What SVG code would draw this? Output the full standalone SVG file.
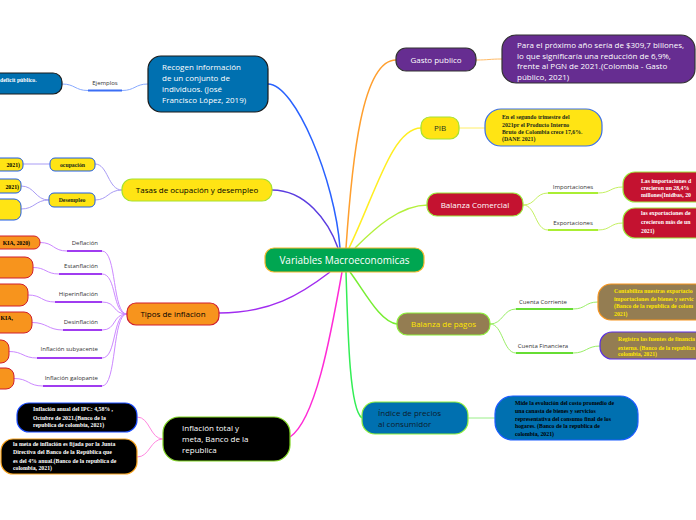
<svg xmlns="http://www.w3.org/2000/svg" width="696" height="520" viewBox="0 0 696 520">
<style>
.s{font-family:"Open Sans","Noto Sans","DejaVu Sans",sans-serif;font-size:8px}
.c{font-family:"Open Sans","Noto Sans","DejaVu Sans",sans-serif;font-size:10px}
.lb{font-family:"Open Sans","Noto Sans","DejaVu Sans",sans-serif;font-size:6px;fill:#333}
.b{font-family:"Liberation Serif","Times New Roman",serif;font-weight:bold;font-size:5.8px}
.m{text-anchor:middle}
.e{text-anchor:end}
.w{fill:#fff}
.k{fill:#000}
.y{fill:#ffe600}
.main{fill:none;stroke-width:1.5}
.sub{fill:none;stroke-width:1}
.ul{fill:none;stroke-width:2}
</style>
<rect width="696" height="520" fill="#fff"/>
<g id="connectors">
<path class="main" stroke="#2962ff" d="M340,248 C335,180 295,84 268,84"/>
<path class="main" stroke="#ff9f2e" d="M346,248 C352,160 362,60 396,60"/>
<path class="main" stroke="#ffee22" d="M349,248 C375,195 392,128 421,128"/>
<path class="main" stroke="#b4f03c" d="M355,248 C375,228 400,205 428,205"/>
<path class="main" stroke="#5b3de0" d="M338,248 C328,220 305,190 272,190"/>
<path class="main" stroke="#a12cf0" d="M330,272 C300,295 270,313 219,313"/>
<path class="main" stroke="#ff2bd6" d="M342,272 C330,340 315,420 290,437"/>
<path class="main" stroke="#77ee33" d="M350,272 C365,292 380,322 397,324"/>
<path class="main" stroke="#33ee55" d="M346,272 C348,340 350,410 362,418"/>
<path class="sub" stroke="#88aaff" d="M62,84 C75,84 75,90.5 88,90.5 M122,90.5 C135,90.5 135,84 148,84"/>
<path class="ul" stroke="#3b6ef5" d="M88,90.5 H122"/>
<path class="sub" stroke="#a99cf5" d="M122,190 C108,190 108,164 95,164 M122,190 C108,190 108,200 95,200 M50,164 L23,164 M49,200 C35,200 35,186 21,186 M49,200 C35,200 35,209 21,209"/>
<path class="sub" stroke="#cc88ff" d="M127,314 C112,314 117,251 102,251 M127,314 C112,314 117,274 102,274 M127,314 C112,314 117,302 102,302 M127,314 C112,314 117,330 102,330 M127,314 C112,314 117,358 102,358 M127,314 C112,314 117,386 102,386 M67,251 C53,251 54,242.5 40,242.5 M59,274 C46,274 46,267.5 33,267.5 M55,302 C41,302 42,295 28,295 M63,330 C48,330 47,322.5 32,322.5 M37,358 C23,358 23,351.5 9,351.5 M43,386 C28,386 29,378.5 14,378.5"/>
<path class="ul" stroke="#a03cf0" d="M67,251 H102 M59,274 H102 M55,302 H102 M63,330 H102 M37,358 H102 M43,386 H102"/>
<path class="sub" stroke="#ff88e0" d="M163,439 C150,439 150,417 137,417 M163,439 C150,439 150,457 137,457"/>
<path class="sub" stroke="#ffbb66" d="M476,60 C489,60 489,59 502,59"/>
<path class="sub" stroke="#ffee66" d="M459,128 L485,128"/>
<path class="sub" stroke="#c4f060" d="M523,205 C536,205 535,193 548,193 M523,205 C536,205 535,230 548,230 M598,193 C611,193 610,187 623,187 M598,230 C611,230 610,223 623,223"/>
<path class="ul" stroke="#aaee33" d="M548,193 H598 M548,230 H598"/>
<path class="sub" stroke="#99ee66" d="M490,324 C503,324 503,309 516,309 M490,324 C503,324 503,353 516,353 M573,309 C586,309 585,302 598,302 M573,353 C586,353 587,346 600,346"/>
<path class="ul" stroke="#66dd33" d="M516,309 H573 M516,353 H573"/>
<path class="sub" stroke="#99ee88" d="M468,418 L495,418"/>
</g>
<g id="central">
<rect x="265" y="248" width="159" height="24" rx="9" fill="#00a651" stroke="#f5b82e" stroke-width="1.2"/>
<text class="c m w" x="344.5" y="263.5">Variables Macroeconomicas</text>
</g>
<g id="recogen">
<rect x="148" y="56" width="120" height="56" rx="13" fill="#0070b0" stroke="#1a1a1a" stroke-width="1.2"/>
<text class="s w" x="162" y="69.5">Recogen información</text>
<text class="s w" x="162" y="80.6">de un conjunto de</text>
<text class="s w" x="162" y="91.7">individuos. (José</text>
<text class="s w" x="162" y="102.8">Francisco López, 2019)</text>
</g>
<g id="ejemplo">
<rect x="-20" y="73" width="82" height="21" rx="9" fill="#0070b0" stroke="#1a1a1a" stroke-width="1.2"/>
<text class="b w" x="0" y="82">deficit público.</text>
</g>
<g id="lbl-ejemplos"><text class="lb m" x="105" y="85">Ejemplos</text></g>
<g id="tasas">
<rect x="122" y="179" width="150" height="22" rx="10" fill="#ffe414" stroke="#a6e22e" stroke-width="1.2"/>
<text class="s m k" x="197" y="193">Tasas de ocupación y desempleo</text>
</g>
<g id="ocupacion">
<rect x="50" y="158" width="45" height="13" rx="5" fill="#ffe414" stroke="#1e5ce6" stroke-width="1"/>
<text class="b m" x="72.5" y="166.5" fill="#1a2a1a">ocupación</text>
</g>
<g id="desempleo">
<rect x="49" y="193" width="46" height="14" rx="5" fill="#ffe414" stroke="#1e5ce6" stroke-width="1"/>
<text class="b m" x="72" y="202" fill="#1a2a1a">Desempleo</text>
</g>
<g id="ocup-1">
<rect x="-20" y="158" width="43" height="13" rx="5" fill="#ffe414" stroke="#1e5ce6" stroke-width="1"/>
<text class="b e k" x="20" y="166.5">2021)</text>
</g>
<g id="des-1">
<rect x="-20" y="179" width="41" height="14" rx="5" fill="#ffe414" stroke="#1e5ce6" stroke-width="1"/>
<text class="b e k" x="19" y="188.5">2021)</text>
</g>
<g id="des-2">
<rect x="-20" y="199" width="41" height="21" rx="7" fill="#ffe414" stroke="#1e5ce6" stroke-width="1"/>
</g>
<g id="tipos">
<rect x="127" y="303" width="92" height="22" rx="9" fill="#f7941d" stroke="#d01e2e" stroke-width="1.2"/>
<text class="s m k" x="173" y="316.9">Tipos de inflacion</text>
</g>
<g id="tipos-labels">
<text class="lb e" x="98" y="245.2">Deflación</text>
<text class="lb e" x="98" y="268.2">Estanflación</text>
<text class="lb e" x="98" y="296.2">Hiperinflación</text>
<text class="lb e" x="98" y="324.2">Desinflación</text>
<text class="lb e" x="98" y="351.2">Inflación subyacente</text>
<text class="lb e" x="98" y="380.2">Inflación galopante</text>
</g>
<g id="t1"><rect x="-20" y="236" width="60" height="13" rx="6" fill="#f7941d" stroke="#d01e2e"/><text class="b e k" x="30" y="245">KIA, 2020)</text></g>
<g id="t2"><rect x="-20" y="257" width="53" height="21" rx="8" fill="#f7941d" stroke="#d01e2e"/></g>
<g id="t3"><rect x="-20" y="284" width="48" height="22" rx="8" fill="#f7941d" stroke="#d01e2e"/></g>
<g id="t4"><rect x="-20" y="312" width="52" height="21" rx="8" fill="#f7941d" stroke="#d01e2e"/><text class="b e k" x="13" y="320">KIA,</text></g>
<g id="t5"><rect x="-20" y="340" width="29" height="23" rx="8" fill="#f7941d" stroke="#d01e2e"/></g>
<g id="t6"><rect x="-20" y="368" width="34" height="21" rx="8" fill="#f7941d" stroke="#d01e2e"/></g>
<g id="inflacion-total">
<rect x="163" y="417" width="127" height="44" rx="16" fill="#000" stroke="#7ed321" stroke-width="1.2"/>
<text class="s w" x="182" y="431">Inflación total y</text>
<text class="s w" x="182" y="442">meta, Banco de la</text>
<text class="s w" x="182" y="453">republica</text>
</g>
<g id="ipc-anual">
<rect x="17" y="403" width="120" height="29" rx="12" fill="#000" stroke="#1a4cff" stroke-width="1.2"/>
<text class="b w" x="33" y="411">Inflación anual del IPC: 4,58% ,</text>
<text class="b w" x="33" y="419.5">Octubre de 2021.(Banco de la</text>
<text class="b w" x="33" y="427">republica de colombia, 2021)</text>
</g>
<g id="meta">
<rect x="1" y="439" width="136" height="35" rx="12" fill="#000" stroke="#f7a21d" stroke-width="1.2"/>
<text class="b w" x="13" y="446">la meta de inflación es fijada por la Junta</text>
<text class="b w" x="13" y="454">Directiva del Banco de la República que</text>
<text class="b w" x="13" y="462.5">es del 4% anual.(Banco de la republica de</text>
<text class="b w" x="13" y="470">colombia, 2021)</text>
</g>
<g id="gasto">
<rect x="396" y="48" width="80" height="23" rx="10" fill="#662d91" stroke="#333" stroke-width="1.2"/>
<text class="s m w" x="436" y="62.9">Gasto publico</text>
</g>
<g id="gasto-sub">
<rect x="502" y="35" width="193" height="48" rx="14" fill="#662d91" stroke="#333" stroke-width="1.2"/>
<text class="s w" x="517" y="47.9">Para el próximo año sería de $309,7 billones,</text>
<text class="s w" x="517" y="58.6">lo que significaría una reducción de 6,9%,</text>
<text class="s w" x="517" y="69.3">frente al PGN de 2021.(Colombia - Gasto</text>
<text class="s w" x="517" y="80">público, 2021)</text>
</g>
<g id="pib">
<rect x="421" y="117" width="38" height="22" rx="9" fill="#ffe414" stroke="#a6e22e" stroke-width="1.2"/>
<text class="s m" x="440" y="131" fill="#1f3320">PIB</text>
</g>
<g id="pib-sub">
<rect x="485" y="109" width="117" height="37" rx="16" fill="#ffe414" stroke="#3a6ee8" stroke-width="1.2"/>
<text class="b" x="502" y="119" fill="#1a2a1a" font-size="6">En el segundo trimestre del</text>
<text class="b" x="502" y="126.5" fill="#1a2a1a" font-size="6">2021pr el Producto Interno</text>
<text class="b" x="502" y="134" fill="#1a2a1a" font-size="6">Bruto de Colombia crece 17,6%.</text>
<text class="b" x="502" y="141" fill="#1a2a1a" font-size="6">(DANE 2021)</text>
</g>
<g id="balanza-comercial">
<rect x="427" y="193" width="96" height="23" rx="10" fill="#c41230" stroke="#9be83a" stroke-width="1.2"/>
<text class="s m w" x="475" y="207.8">Balanza Comercial</text>
</g>
<g id="bc-labels">
<text class="lb m" x="573" y="189">Importaciones</text>
<text class="lb m" x="573" y="225">Exportaciones</text>
</g>
<g id="importaciones">
<rect x="623" y="172" width="90" height="30" rx="12" fill="#c41230" stroke="#9be83a" stroke-width="1.2"/>
<text class="b w" x="641" y="183">Las importaciones d</text>
<text class="b w" x="641" y="190">crecieron un 28,4%</text>
<text class="b w" x="641" y="197">millones(Inidbas, 20</text>
</g>
<g id="exportaciones">
<rect x="623" y="208" width="90" height="30" rx="12" fill="#c41230" stroke="#9be83a" stroke-width="1.2"/>
<text class="b w" x="641" y="215">las exportaciones de</text>
<text class="b w" x="641" y="224">crecieron más de un</text>
<text class="b w" x="641" y="233">2021)</text>
</g>
<g id="balanza-pagos">
<rect x="397" y="313" width="93" height="22" rx="10" fill="#947d52" stroke="#8ef03a" stroke-width="1.2"/>
<text class="s m y" x="443.5" y="326.9">Balanza de pagos</text>
</g>
<g id="bp-labels">
<text class="lb m" x="543" y="304">Cuenta Corriente</text>
<text class="lb m" x="543" y="348">Cuenta Financiera</text>
</g>
<g id="cuenta-corriente">
<rect x="598" y="284" width="110" height="36" rx="13" fill="#947d52" stroke="#f7941d" stroke-width="1.2"/>
<text class="b y" x="614" y="293">Contabiliza nuestras exportacio</text>
<text class="b y" x="614" y="300.5">importaciones de bienes y servic</text>
<text class="b y" x="614" y="308">(Banco de la republica de colom</text>
<text class="b y" x="614" y="315.5">2021)</text>
</g>
<g id="cuenta-financiera">
<rect x="600" y="332" width="110" height="27" rx="12" fill="#947d52" stroke="#5a2ee6" stroke-width="1.2"/>
<text class="b y" x="618" y="341">Registra las fuentes de financia</text>
<text class="b y" x="618" y="349.5">externa. (Banco de la republica</text>
<text class="b y" x="618" y="356">colombia, 2021)</text>
</g>
<g id="indice">
<rect x="362" y="402" width="106" height="32" rx="13" fill="#0070b0" stroke="#8ef03a" stroke-width="1.2"/>
<text class="s" x="378" y="416" fill="#0d1b2a">Índice de precios</text>
<text class="s" x="378" y="427" fill="#0d1b2a">al consumidor</text>
</g>
<g id="indice-sub">
<rect x="495" y="396" width="143" height="44" rx="18" fill="#0070b0" stroke="#1a5cff" stroke-width="1.2"/>
<text class="b k" x="515" y="405">Mide la evolución del costo promedio de</text>
<text class="b k" x="515" y="413">una canasta de bienes y servicios</text>
<text class="b k" x="515" y="420.5">representativa del consumo final de los</text>
<text class="b k" x="515" y="428">hogares. (Banco de la republica de</text>
<text class="b k" x="515" y="435.5">colombia, 2021)</text>
</g>
</svg>
